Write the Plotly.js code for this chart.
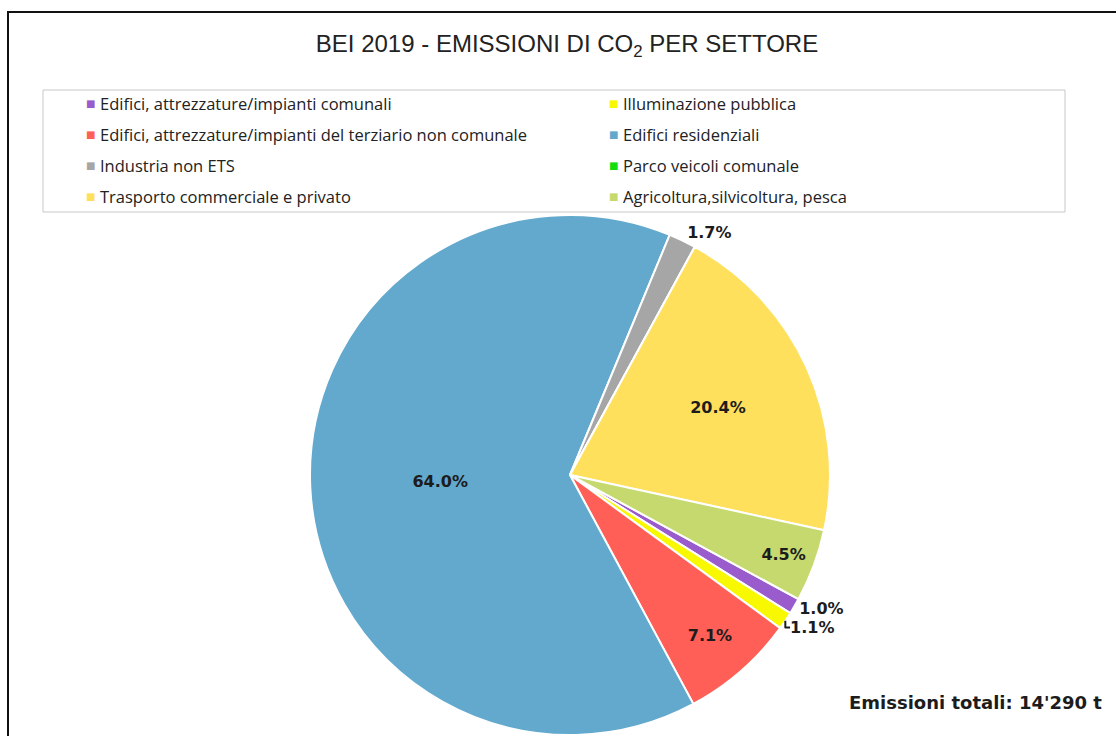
<!DOCTYPE html>
<html>
<head>
<meta charset="utf-8">
<script src="https://cdn.plot.ly/plotly-3.0.1.min.js"></script>
<style>html,body{margin:0;padding:0;background:#fff;}#chart{width:1116px;height:736px;}</style>
</head>
<body>
<div id="chart"></div>
<script>
// Data (percent of total CO2 emissions, BEI 2019)
const sectors = [
  "Edifici, attrezzature/impianti comunali",
  "Illuminazione pubblica",
  "Edifici, attrezzature/impianti del terziario non comunale",
  "Edifici residenziali",
  "Industria non ETS",
  "Parco veicoli comunale",
  "Trasporto commerciale e privato",
  "Agricoltura,silvicoltura, pesca"
];
const shares = [1.0, 1.1, 7.1, 64.0, 1.7, 0.0, 20.4, 4.5];
const sliceColors = ["#9A5CCC", "#F8F800", "#FF5F57", "#62A9CD", "#A6A6A6", "#11DD11", "#FFE05C", "#C5D96E"];
const labelPlacement = ["outside", "outside", "inside", "inside", "outside", "none", "inside", "inside"];
const totalText = "Emissioni totali: 14'290 t";

const W = 1116, H = 736;
const px = x => x / W;
const py = y => 1 - y / H;

const trace = {
  type: "pie",
  labels: sectors,
  values: shares,
  sort: false,
  direction: "clockwise",
  rotation: 118.5,
  marker: {colors: sliceColors, line: {color: "#ffffff", width: 2}},
  texttemplate: "%{value:.1f}%",
  textposition: labelPlacement,
  insidetextorientation: "horizontal",
  textfont: {family: "DejaVu Sans, sans-serif", size: 16, color: "#1c1c1c", weight: "bold"},
  hoverinfo: "label+value",
  showlegend: false,
  domain: {x: [px(310), px(830)], y: [0, 522 / H]}
};

// Legend drawn as annotations (two columns, row-major)
const annotations = [];
const shapes = [];
const colX = [90, 613];
const rowY0 = 104, rowStep = 30.7;
sectors.forEach((name, i) => {
  const col = i % 2, row = Math.floor(i / 2);
  const y = py(rowY0 + row * rowStep);
  annotations.push({
    x: px(colX[col]), y: y, xref: "paper", yref: "paper",
    xanchor: "center", yanchor: "middle", showarrow: false,
    text: "■", font: {family: "DejaVu Sans, sans-serif", size: 10, color: sliceColors[i]}
  });
  annotations.push({
    x: px(colX[col] + 8), y: y, xref: "paper", yref: "paper",
    xanchor: "left", yanchor: "middle", showarrow: false,
    text: name, font: {family: "Open Sans, sans-serif", size: 16.5, color: "#222222"}
  });
});
annotations.push({
  x: px(1104), y: py(702), xref: "paper", yref: "paper",
  xanchor: "right", yanchor: "middle", showarrow: false,
  text: totalText, font: {family: "DejaVu Sans, sans-serif", size: 18, color: "#1c1c1c", weight: "bold"}
});

// legend box
shapes.push({type: "rect", xref: "paper", yref: "paper",
  x0: px(43), x1: px(1065), y0: py(90), y1: py(212),
  line: {color: "#c8c8c8", width: 1}, fillcolor: "rgba(0,0,0,0)"});
// outer chart frame
shapes.push({type: "rect", xref: "paper", yref: "paper",
  x0: px(8), x1: px(1130), y0: py(12), y1: py(750),
  line: {color: "#111111", width: 2}, fillcolor: "rgba(0,0,0,0)"});

const layout = {
  width: W, height: H,
  margin: {l: 0, r: 0, t: 0, b: 0},
  paper_bgcolor: "#ffffff",
  title: {
    text: "BEI 2019 - EMISSIONI DI CO<sub>2</sub> PER SETTORE",
    x: px(567), xanchor: "center", y: py(44), yanchor: "middle",
    font: {family: "Liberation Sans, Arial, sans-serif", size: 24, color: "#222222"}
  },
  showlegend: false,
  annotations: annotations,
  shapes: shapes
};

Plotly.newPlot("chart", [trace], layout, {displayModeBar: false, staticPlot: true});
</script>
</body>
</html>
